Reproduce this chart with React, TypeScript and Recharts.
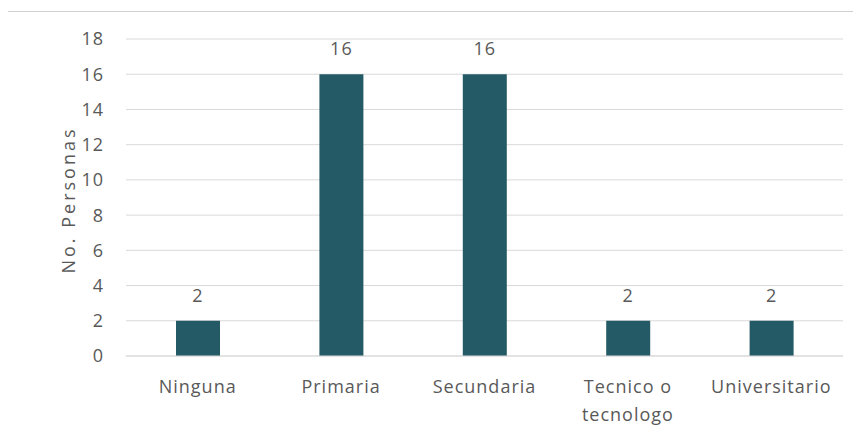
import { BarChart, Bar, XAxis, YAxis, CartesianGrid, LabelList } from 'recharts';

const categories = ['Ninguna', 'Primaria', 'Secundaria', 'Tecnico o tecnologo', 'Universitario'];
const personas = [2, 16, 16, 2, 2];
const yTicks = [0, 2, 4, 6, 8, 10, 12, 14, 16, 18];

const FONT = '"Open Sans", sans-serif';
const GREY = '#595959';
const SIZE = 18;
const SPACING = 1;

const data = categories.map((name, i) => ({ name, value: personas[i] }));

// wraps "Tecnico o tecnologo" onto two lines like the original
function CategoryTick({ x, y, payload }: any) {
  const words: string[] = String(payload.value).split(' ');
  const lines: string[] = [];
  let cur = '';
  words.forEach(w => {
    const next = cur ? cur + ' ' + w : w;
    if (next.length > 13 && cur) {
      lines.push(cur);
      cur = w;
    } else cur = next;
  });
  if (cur) lines.push(cur);
  return (
    <text
      x={x}
      y={y}
      textAnchor="middle"
      fill={GREY}
      fontSize={SIZE}
      fontFamily={FONT}
      letterSpacing={SPACING}
    >
      {lines.map((l, i) => (
        <tspan key={i} x={x} dy={i === 0 ? 29 : 28}>{l}</tspan>
      ))}
    </text>
  );
}

function AxisTitle() {
  const cx = 60;
  const cy = 192;
  return (
    <text
      x={cx}
      y={cy}
      transform={`rotate(-90 ${cx} ${cy})`}
      textAnchor="middle"
      dominantBaseline="central"
      fill={GREY}
      fontSize={SIZE}
      fontFamily={FONT}
      letterSpacing={3}
    >
      No. Personas
    </text>
  );
}

export default function App() {
  return (
    <div
      style={{
        width: 850,
        height: 429,
        marginLeft: -1,
        marginTop: 3,
        borderLeft: '1px solid #d0d0d0',
        borderTop: '1px solid #d0d0d0',
        overflow: 'hidden',
      }}
    >
      <div style={{ position: 'relative', left: 0, top: -4 }}>
        <BarChart
          width={853}
          height={432}
          data={data}
          margin={{ top: 31, right: 18, bottom: 0, left: 0 }}
          barCategoryGap={0}
        >
          <CartesianGrid vertical={false} stroke="#d9d9d9" />
          <XAxis
            dataKey="name"
            height={84}
            axisLine={{ stroke: '#d9d9d9' }}
            tickLine={false}
            interval={0}
            tick={<CategoryTick />}
          />
          <YAxis
            width={118}
            domain={[0, 18]}
            ticks={yTicks}
            axisLine={false}
            tickLine={false}
            tickSize={0}
            tickMargin={22}
            tick={{ fill: GREY, fontSize: SIZE, fontFamily: FONT, letterSpacing: SPACING }}
            label={<AxisTitle />}
          />
          <Bar dataKey="value" fill="#235a66" barSize={44} isAnimationActive={false}>
            <LabelList
              dataKey="value"
              position="top"
              offset={19}
              fill={GREY}
              fontSize={SIZE}
              fontFamily={FONT}
              letterSpacing={SPACING}
            />
          </Bar>
        </BarChart>
      </div>
    </div>
  );
}
